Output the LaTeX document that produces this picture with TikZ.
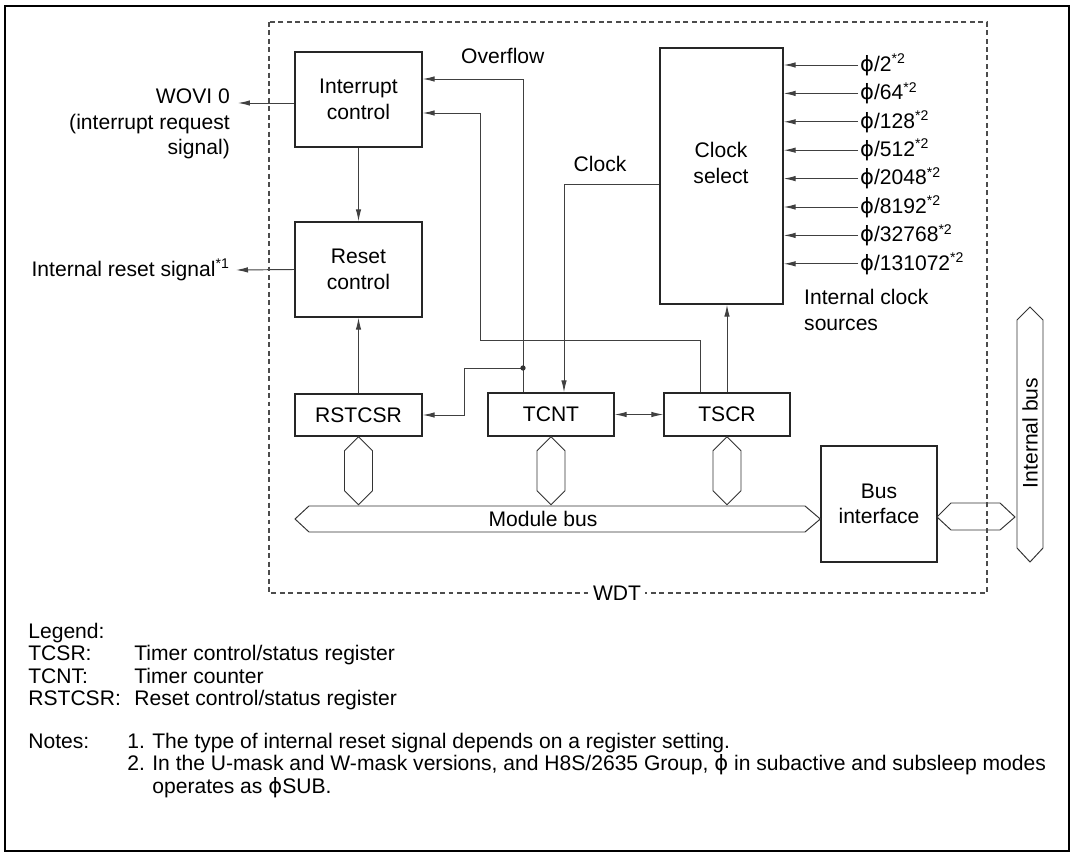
\documentclass[tikz,border=0pt]{standalone}
\usepackage{fontspec}
\setmainfont{Liberation Sans}
\newfontfamily\phifont{DejaVu Sans}
\usetikzlibrary{arrows.meta}
\newcommand{\ph}{{\phifont\char"03D5}}

\begin{document}
\begin{tikzpicture}[x=0.02cm, y=-0.02cm,
        font=\fontsize{12}{14.5}\selectfont,
        >={Latex[length=2.4mm,width=1.1mm]},
        blk/.style={draw=black!85, line width=0.8pt, fill=white, align=center, inner sep=0pt},
        wire/.style={draw=black!75, line width=0.55pt},
        hexbus/.style={draw=black!80, line width=0.55pt},
        src/.style={anchor=west, inner sep=1pt, text height=0.92em, text depth=0.2em},
        lgd/.style={anchor=base west, inner sep=0pt}]
        \useasboundingbox (0,0) rectangle (1076,855);

        % Outer frame
        \draw[line width=1.3pt] (5,6) rectangle (1069,851);

        % Blocks of the WDT
        \node[blk, minimum width=2.54cm, minimum height=1.9cm] (intctl) at (358.5,99.5) {Interrupt\\control};
        \node[blk, minimum width=2.54cm, minimum height=1.9cm] (rstctl) at (358.5,269.5) {Reset\\control};
        \node[blk, minimum width=2.46cm, minimum height=5.12cm] (clksel) at (721.5,176) {};
        \node[align=center] (clktxt) at (721,163) {Clock\\select};
        \node[blk, minimum width=2.54cm, minimum height=0.84cm] (rstcsr) at (358.5,415) {RSTCSR};
        \node[blk, minimum width=2.52cm, minimum height=0.86cm] (tcnt) at (551,414.5) {TCNT};
        \node[blk, minimum width=2.52cm, minimum height=0.86cm] (tscr) at (727,414.5) {TSCR};
        \node[blk, minimum width=2.32cm, minimum height=2.32cm] (busif) at (879,504) {Bus\\interface};

        % Outputs to the left
        \node[align=right, anchor=east] (wovi) at (236,124) {WOVI 0\\(interrupt request\\signal)};
        \coordinate (wovitip) at (238,103);
        \draw[wire,->] (intctl.west |- wovitip) -- (wovitip);
        \node[anchor=east] (rstout) at (236,270) {Internal reset signal\textsuperscript{*1}};
        \draw[wire,->] (rstctl.west) -- (rstout.east);

        \draw[wire,->] (intctl.south) -- (rstctl.north);
        \draw[wire,->] (rstcsr.north) -- (rstctl.south);

        % Overflow from TCNT
        \node[anchor=west] (ovflbl) at (455,56) {Overflow};
        \coordinate (ovf) at (523,79);
        \coordinate (jn) at (523,368);
        \draw[wire,->] (tcnt.north -| ovf) -- (ovf) -- (intctl.east |- ovf);
        \draw[wire,->] (jn) -- ++(-59,0) |- (rstcsr.east);
        \fill[black!80] (jn) circle (1.5pt);

        % TSCR to interrupt control
        \coordinate (irq) at (480,113);
        \draw[wire,->] ([xshift=-0.54cm]tscr.north) -- ++(0,-52) -| (irq) -- (intctl.east |- irq);

        % Clock to TCNT
        \node (clklbl) at (600,164) {Clock};
        \coordinate (clk) at (564,184);
        \draw[wire,->] (clksel.west |- clk) -- (clk) -- (tcnt.north -| clk);
        \draw[wire,->] (tscr.north) -- (tscr.north |- clksel.south);
        \draw[wire,<->] (tcnt.east) -- (tscr.west);

        % Internal clock sources
        \foreach \d [count=\i from 0] in {2,64,128,512,2048,8192,32768,131072} {
            \node[src] (src\i) at (858,65+28.4*\i) {\ph/\d\textsuperscript{*2}};
            \draw[wire,->] (src\i.west) -- (clksel.east |- src\i.west);
        }
        \node[align=left, anchor=west] (srclbl) at (798,310) {Internal clock\\sources};

        % Module bus
        \foreach \r in {rstcsr,tcnt,tscr} {
            \draw[hexbus, fill=white] (\r.south) -- ++(14,14) -- ++(0,40) -- ++(-14,14) -- ++(-14,-14) -- ++(0,-40) -- cycle;
        }
        \coordinate (mbl) at (295,519);
        \draw[hexbus, fill=white] (mbl) -- ++(14,-13) -- (805,506) -- (busif.west |- mbl) -- (805,532) -- (309,532) -- cycle;
        \node (mblbl) at (543,519) {Module bus};

        % Internal bus
        \coordinate (lnk) at (937,517);
        \draw[hexbus] (lnk) -- ++(14,-14) -- ++(49,0) -- ++(15,14) -- ++(-15,13) -- ++(-49,0) -- cycle;
        \draw[hexbus, fill=white] (1030,307) -- ++(13,13) -- ++(0,228) -- ++(-13,14) -- ++(-13,-14) -- ++(0,-228) -- cycle;
        \node[rotate=90] (ibuslbl) at (1030,433) {Internal bus};

        % WDT boundary
        \draw[black!70, line width=0.6pt, dash pattern=on 2.8pt off 2pt] (269,22) rectangle (987,593);
        \node[fill=white, inner xsep=2pt, inner ysep=1pt] (wdt) at (617,593) {WDT};

        % Legend and notes
        \node[lgd] (lgdhead) at (28,638) {Legend:};
        \node[lgd] (k1) at (28,660.5) {TCSR:};
        \node[lgd] (v1) at (134,660.5) {Timer control/status register};
        \node[lgd] (k2) at (28,683) {TCNT:};
        \node[lgd] (v2) at (134,683) {Timer counter};
        \node[lgd] (k3) at (28,705.5) {RSTCSR:};
        \node[lgd] (v3) at (134,705.5) {Reset control/status register};
        \node[lgd] (notes) at (28,748) {Notes:};
        \node[lgd] (n1) at (127,748) {1.};
        \node[lgd] (t1) at (152,748) {The type of internal reset signal depends on a register setting.};
        \node[lgd] (n2) at (127,770.5) {2.};
        \node[lgd] (t2) at (152,770.5) {In the U-mask and W-mask versions, and H8S/2635 Group, \ph{} in subactive and subsleep modes};
        \node[lgd] (t3) at (152,793) {operates as \ph SUB.};
    \end{tikzpicture}
\end{document}
